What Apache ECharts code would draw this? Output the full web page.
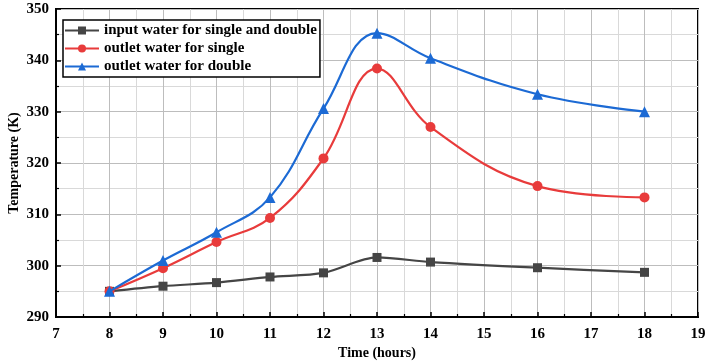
<!DOCTYPE html>
<html><head><meta charset="utf-8">
<script src="https://cdn.jsdelivr.net/npm/echarts@6/dist/echarts.min.js"></script>
<style>html,body{margin:0;padding:0;background:#fff}#c{width:709px;height:363px}</style>
</head><body><div id="c"></div>
<script>
const hours = [8, 9, 10, 11, 12, 13, 14, 16, 18];
const inputWater = [295, 296, 296.7, 297.8, 298.6, 301.6, 300.7, 299.6, 298.7];
const outletSingle = [295, 299.5, 304.6, 309.3, 320.9, 338.4, 327, 315.5, 313.3];
const outletDouble = [295, 301, 306.5, 313.3, 330.6, 345.3, 340.4, 333.4, 330];
const seriesNames = ['input water for single and double', 'outlet water for single', 'outlet water for double'];

const font = 'Liberation Serif';
const chart = echarts.init(document.getElementById('c'));
function pairs(v){ return hours.map((h,i)=>[h, v[i]]); }
const axisCommon = {
  axisLine:{show:true, lineStyle:{color:'#000', width:2}},
  axisTick:{show:true, inside:true, length:5, lineStyle:{color:'#000', width:1.5}},
  minorTick:{show:true, splitNumber:2, length:3, lineStyle:{color:'#000', width:1.2}},
  splitLine:{show:true, lineStyle:{color:'#bdbdbd', width:1}},
  minorSplitLine:{show:true, lineStyle:{color:'#d9d9d9', width:1}},
  axisLabel:{color:'#000', fontFamily:font, fontWeight:'bold', fontSize:15},
  nameTextStyle:{color:'#000', fontFamily:font, fontWeight:'bold', fontSize:14}
};
chart.setOption({
  animation:false,
  grid:{left:56, right:11, top:9, bottom:46, outerBoundsMode:'none', containLabel:false, show:true, borderColor:'#000', borderWidth:2, backgroundColor:'transparent'},
  legend:{
    orient:'vertical', left:63, top:20, itemWidth:34, itemHeight:10, itemGap:3,
    padding:[3,3,3,1], borderColor:'#000', borderWidth:1.5, backgroundColor:'#fff',
    textStyle:{color:'#000', fontFamily:font, fontWeight:'bold', fontSize:15},
    data: seriesNames
  },
  xAxis:Object.assign({}, axisCommon, {
    type:'value', min:7, max:19, interval:1,
    name:'Time (hours)', nameLocation:'middle', nameGap:29, nameMoveOverlap:false,
    axisLabel:Object.assign({}, axisCommon.axisLabel, {margin:10})
  }),
  yAxis:Object.assign({}, axisCommon, {
    type:'value', min:290, max:350, interval:10,
    name:'Temperature (K)', nameLocation:'middle', nameGap:35, nameMoveOverlap:false,
    axisLabel:Object.assign({}, axisCommon.axisLabel, {margin:7})
  }),
  series:[
    {name:seriesNames[0], type:'line', data:pairs(inputWater), smooth:0.3, symbol:'rect', symbolSize:9,
     lineStyle:{color:'#454545', width:2.2}, itemStyle:{color:'#454545'}, z:3},
    {name:seriesNames[1], type:'line', data:pairs(outletSingle), smooth:0.4, symbol:'circle', symbolSize:10,
     lineStyle:{color:'#e83b3b', width:2.2}, itemStyle:{color:'#e83b3b'}, z:4},
    {name:seriesNames[2], type:'line', data:pairs(outletDouble), smooth:0.4, symbol:'triangle', symbolSize:11,
     lineStyle:{color:'#1c6ad4', width:2.2}, itemStyle:{color:'#1c6ad4'}, z:5}
  ]
});
</script></body></html>
